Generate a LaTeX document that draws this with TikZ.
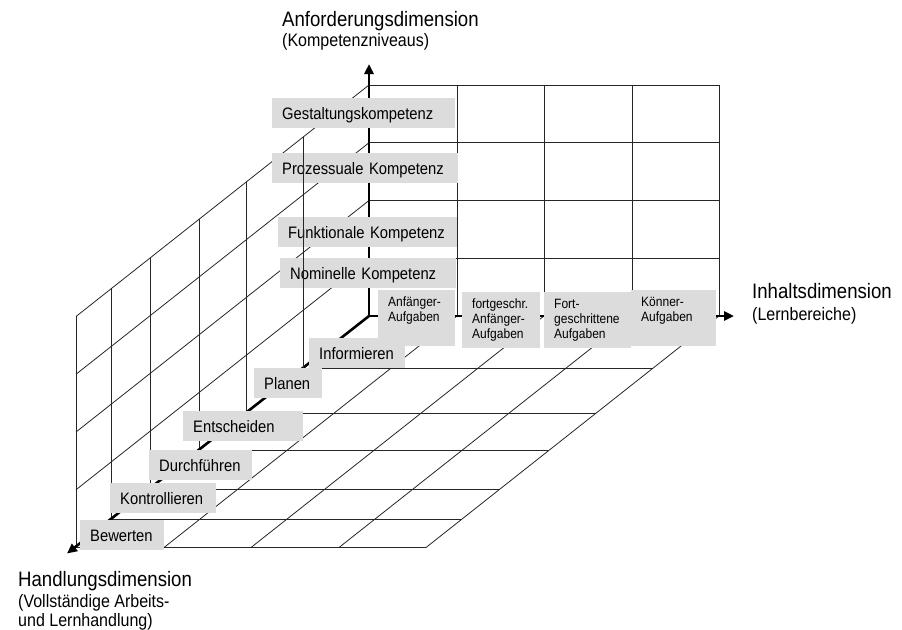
\documentclass[tikz,border=0pt]{standalone}
\usepackage{fontspec}
\setmainfont{Liberation Sans}[FakeStretch=0.89]
\usetikzlibrary{arrows.meta}
\definecolor{boxgray}{RGB}{220,220,220}
\tikzset{
  gridline/.style={line width=0.8pt, draw=black!85},
  axisline/.style={line width=2.6pt, draw=black, -{Triangle[length=10pt,width=9pt]}},
  lbl/.style={fill=boxgray, anchor=north west, inner xsep=10pt, inner ysep=0pt, align=left,
    font=\fontsize{16.6}{19}\selectfont, text height=11.9pt, text depth=0pt, minimum height=30pt},
  task/.style={fill=boxgray, anchor=north west, inner xsep=10pt, inner ysep=0pt, align=left,
    font=\fontsize{13.5}{15}\selectfont, minimum height=56pt},
  titletext/.style={anchor=base west, inner sep=0pt, font=\fontsize{20.9}{24}\selectfont},
  subtext/.style={anchor=base west, inner sep=0pt, align=left, font=\fontsize{18}{19.5}\selectfont},
}
\begin{document}
\begin{tikzpicture}[x=1pt,y=-1pt]
\useasboundingbox (0,0) rectangle (902,629);
% axis points
\coordinate (O) at (369,316);
\coordinate (vtip) at (369,64);
\coordinate (htip) at (734,316);
\coordinate (dtip) at (67,553.5);

% back wall
\foreach \x in {457,544,632,719} \draw[gridline] (\x,85) -- (\x,316);
\foreach \y in {85,142.75,200.5,258.25} \draw[gridline] (369,\y) -- (719,\y);
% left wall
\foreach \s in {123,170,219,258,293} \draw[gridline] ({369-\s},{316+0.79*\s-231}) -- ({369-\s},{316+0.79*\s});
\foreach \h in {57.75,115.5,173.25,231} \draw[gridline] (369,{316-\h}) -- (76,{547.5-\h});
% floor
\foreach \s in {66,123,170,219,258,293} \draw[gridline] ({369-\s},{316+0.79*\s}) -- ({719-\s},{316+0.79*\s});
\foreach \x in {457,544,632,719} \draw[gridline] (\x,316) -- ({\x-293},547.5);

% axes
\draw[axisline] (O) -- (vtip);
\draw[axisline] (O) -- (htip);
\draw[axisline] (O) -- (dtip);

% competence levels
\node[lbl, text width=163pt] (gest) at (272,98) {Gestaltungskompetenz};
\node[lbl, text width=166pt] (proz) at (272,153) {Prozessuale Kompetenz};
\node[lbl, text width=159pt] (funk) at (278,217) {Funktionale Kompetenz};
\node[lbl, text width=156pt] (nomi) at (280,258) {Nominelle Kompetenz};

% task levels
\node[task, text width=57pt] (anf) at (378,290) {\strut Anfänger-\\\strut Aufgaben\\\strut};
\node[task, text width=58pt] (fga) at (462,292) {\strut fortgeschr.\\\strut Anfänger-\\\strut Aufgaben};
\node[task, text width=67pt] (fort) at (544,292) {\strut Fort-\\\strut geschrittene\\\strut Aufgaben};
\node[task, text width=65pt] (koen) at (631,290) {\strut Könner-\\\strut Aufgaben\\\strut};

% action steps
\node[lbl, text width=76pt] (info) at (309,338) {Informieren};
\node[lbl, text width=48pt] (plan) at (254,368) {Planen};
\node[lbl, text width=100pt] (ents) at (183,411) {Entscheiden};
\node[lbl, text width=83pt] (durch) at (149,450) {Durchführen};
\node[lbl, text width=86pt] (kontr) at (110,483) {Kontrollieren};
\node[lbl, text width=64pt] (bew) at (80,520) {Bewerten};

% left-wall line that lies over the boxes
\draw[gridline] (303,137) -- (303,368.1);

% axis titles
\node[titletext] (t1) at (282,27) {Anforderungsdimension};
\node[subtext] (s1) at (282,46.5) {(Kompetenzniveaus)};
\node[titletext] (t2) at (752,298) {Inhaltsdimension};
\node[subtext] (s2) at (752,320) {(Lernbereiche)};
\node[titletext] (t3) at (18,586) {Handlungsdimension};
\node[subtext] (s3) at (18,607) {(Vollständige Arbeits-};
\node[subtext] (s4) at (18,626) {und Lernhandlung)};
\end{tikzpicture}
\end{document}
